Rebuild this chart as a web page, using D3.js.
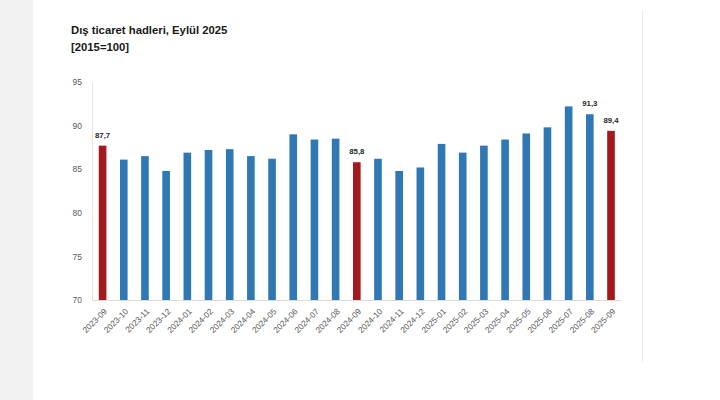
<!DOCTYPE html>
<html>
<head>
<meta charset="utf-8">
<script src="https://cdn.jsdelivr.net/npm/d3@7"></script>
<style>
  html, body { margin: 0; padding: 0; background: #fff; }
  svg { display: block; }
</style>
</head>
<body>
<div id="chart"></div>
<script>
'use strict';

// data
var months = ['2023-09', '2023-10', '2023-11', '2023-12', '2024-01', '2024-02', '2024-03',
  '2024-04', '2024-05', '2024-06', '2024-07', '2024-08', '2024-09', '2024-10', '2024-11',
  '2024-12', '2025-01', '2025-02', '2025-03', '2025-04', '2025-05', '2025-06', '2025-07',
  '2025-08', '2025-09'];
var values = [87.7, 86.1, 86.5, 84.8, 86.9, 87.2, 87.3, 86.5, 86.2, 89.0, 88.4, 88.5, 85.8,
  86.2, 84.8, 85.2, 87.9, 86.9, 87.7, 88.4, 89.1, 89.8, 92.2, 91.3, 89.4];
var highlighted = ['2023-09', '2024-09', '2025-09'];
var labelled = ['2023-09', '2024-09', '2025-08', '2025-09'];
var yTicks = [70, 75, 80, 85, 90, 95];
var title = 'Dış ticaret hadleri, Eylül 2025';
var subtitle = '[2015=100]';

(function () {
  var width = 720,
    height = 400,
    plotLeft = 92, plotRight = 621.6,
    plotTop = 82, plotBottom = 300,
    blue = '#2f78b4',
    red = '#a3191d',
    grey = '#595959';

  var data = months.map(function (m, i) {
    return { month: m, val: values[i] };
  });

  var svg = d3.select('#chart').append('svg')
    .attr('width', width)
    .attr('height', height);

  // page background: grey strip on the left, thin divider on the right
  svg.append('rect').attr('x', 0).attr('y', 0).attr('width', 33).attr('height', height).attr('fill', '#f2f2f2');
  svg.append('line').attr('x1', 642.5).attr('x2', 642.5).attr('y1', 10).attr('y2', 362)
    .attr('stroke', '#ebebeb').attr('stroke-width', 1);

  var x = d3.scaleBand()
    .domain(months)
    .range([plotLeft, plotRight])
    .paddingInner(0.64)
    .paddingOuter(0.32);

  var y = d3.scaleLinear()
    .domain([70, 95])
    .range([plotBottom, plotTop]);

  // titles
  svg.append('text')
    .attr('x', 71).attr('y', 34)
    .attr('font-family', 'Liberation Sans, Arial, sans-serif')
    .attr('font-weight', 'bold')
    .attr('font-size', 11.3)
    .attr('fill', '#1a1a1a')
    .text(title);
  svg.append('text')
    .attr('x', 71).attr('y', 51)
    .attr('font-family', 'Liberation Sans, Arial, sans-serif')
    .attr('font-weight', 'bold')
    .attr('font-size', 11.3)
    .attr('fill', '#1a1a1a')
    .text(subtitle);

  // y axis
  var yAxis = d3.axisLeft(y).tickValues(yTicks).tickSize(0).tickPadding(10);
  var gy = svg.append('g')
    .attr('transform', 'translate(' + plotLeft + ',0)')
    .call(yAxis);
  gy.select('.domain').attr('stroke', '#e3e3e3');
  gy.selectAll('text')
    .attr('font-family', 'Liberation Sans, Arial, sans-serif')
    .attr('font-size', 8.5)
    .attr('fill', grey);

  // x axis
  var xAxis = d3.axisBottom(x).tickSize(0).tickPadding(0);
  var gx = svg.append('g')
    .attr('transform', 'translate(0,' + plotBottom + ')')
    .call(xAxis);
  gx.select('.domain').attr('stroke', '#dcdcdc');
  gx.selectAll('text')
    .attr('font-family', 'Liberation Sans, Arial, sans-serif')
    .attr('font-size', 8.3)
    .attr('fill', grey)
    .attr('text-anchor', 'end')
    .attr('dy', 0)
    .attr('y', 0)
    .attr('transform', 'translate(5,12) rotate(-45)');

  // bars
  var bars = svg.append('g').attr('class', 'bars');
  bars.selectAll('rect')
    .data(data)
    .enter().append('rect')
    .attr('x', function (d) { return x(d.month); })
    .attr('y', function (d) { return y(d.val); })
    .attr('width', x.bandwidth())
    .attr('height', function (d) { return plotBottom - y(d.val); })
    .attr('fill', function (d) {
      return highlighted.indexOf(d.month) >= 0 ? red : blue;
    });

  // value labels
  svg.append('g').selectAll('text')
    .data(data.filter(function (d) { return labelled.indexOf(d.month) >= 0; }))
    .enter().append('text')
    .attr('x', function (d) { return x(d.month) + x.bandwidth() / 2; })
    .attr('y', function (d) { return y(d.val) - 8; })
    .attr('text-anchor', 'middle')
    .attr('font-family', 'Liberation Sans, Arial, sans-serif')
    .attr('font-weight', 'bold')
    .attr('font-size', 7.8)
    .attr('fill', '#262626')
    .text(function (d) { return d3.format('.1f')(d.val).replace('.', ','); });
})();
</script>
</body>
</html>
